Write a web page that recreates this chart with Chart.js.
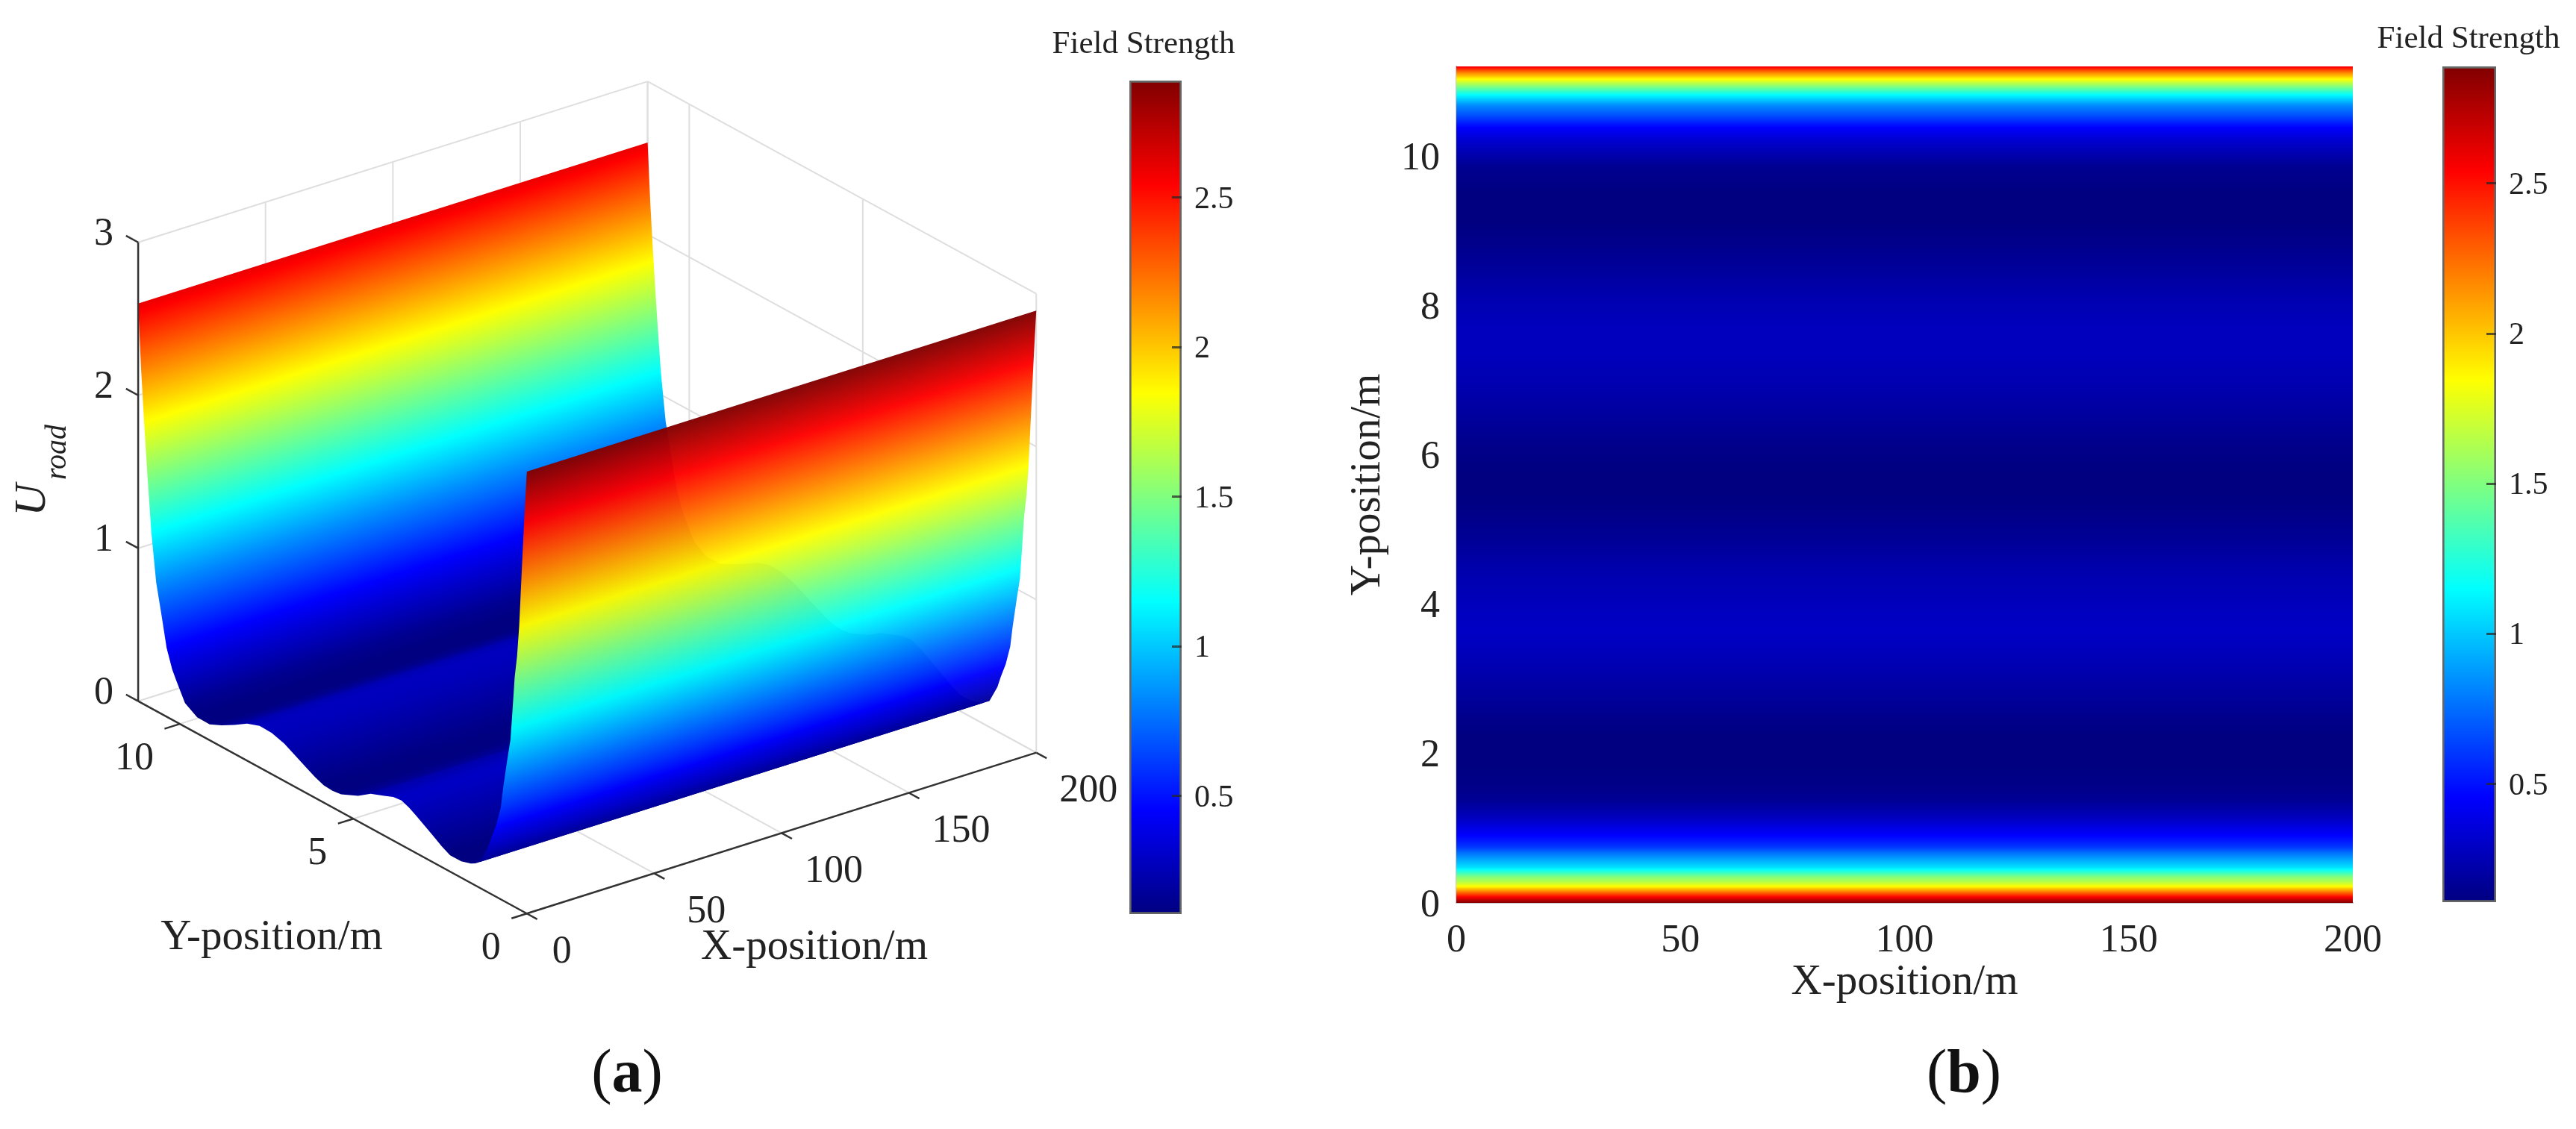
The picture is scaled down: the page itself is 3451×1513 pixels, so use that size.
<!DOCTYPE html>
<html>
<head>
<meta charset="utf-8">
<title>Field Strength</title>
<script src="https://cdn.jsdelivr.net/npm/chart.js@4/dist/chart.umd.min.js"></script>
<style>
  html, body { margin: 0; padding: 0; background: #fff; }
  canvas { position: absolute; left: 0; top: 0; }
</style>
</head>
<body>
<canvas id="surface" width="3451" height="1513"></canvas>
<canvas id="barA" width="3451" height="1513"></canvas>
<canvas id="heat" width="3451" height="1513"></canvas>
<canvas id="barB" width="3451" height="1513"></canvas>
<script>
// values: road position (m) and field strength there
const roadY = [11.2, 11.12, 11.03, 10.93, 10.82, 10.68, 10.53, 10.38, 10.22, 10.1, 9.85, 9.5, 9.14, 8.8, 8.43, 8.06, 7.7, 7.35, 6.99, 6.63, 6.34, 6.1, 5.85, 5.6, 5.35, 4.86, 4.5, 4.11, 3.85, 3.61, 3.4, 3.2, 2.71, 2.45, 2.21, 1.89, 1.61, 1.48, 1.35, 1.12, 1.02, 0.88, 0.75, 0.68, 0.56, 0.47, 0.4, 0.35, 0.28, 0.22, 0.15, 0.08, 0];
const fieldU = [2.6, 2.2, 1.85, 1.5, 1.15, 0.84, 0.65, 0.45, 0.33, 0.27, 0.155, 0.105, 0.104, 0.14, 0.188, 0.243, 0.273, 0.27, 0.245, 0.2, 0.164, 0.135, 0.113, 0.108, 0.116, 0.167, 0.225, 0.26, 0.285, 0.292, 0.272, 0.246, 0.175, 0.135, 0.106, 0.107, 0.127, 0.145, 0.17, 0.29, 0.37, 0.47, 0.6, 0.74, 0.94, 1.08, 1.32, 1.5, 1.65, 1.85, 2.2, 2.54, 2.89];

const xTicks = [0, 50, 100, 150, 200];
const yTicks3d = [0, 5, 10];
const yTicks2d = [0, 2, 4, 6, 8, 10];
const zTicks = [0, 1, 2, 3];
const barTicks = [0.5, 1, 1.5, 2, 2.5];

const xMax = 200, yMax = 11.2;
const barMin = 0.106, barMax = 2.89;
const foldY = 1.48; // where the valley floor turns into the near wall

const W = 3451, H = 1513;
const SERIF = "'Liberation Serif', 'Times New Roman', serif";
const INK = "#222";

// orthographic view of the 3d box, in canvas units
const view = { u0: 705, ux: 3.415, uy: -46.52, v0: 1225, vx: -1.08, vy: -25.45, vz: -205.3 };
function project(x, y, z) {
  return { x: view.u0 + view.ux * x + view.uy * y, y: view.v0 + view.vx * x + view.vy * y + view.vz * z };
}

function jet(v, alpha = 1) {
  const f = Math.min(1, Math.max(0, (v - barMin) / (barMax - barMin)));
  const c = k => Math.round(255 * Math.min(1, Math.max(0, 1.5 - Math.abs(4 * f - k))));
  return `rgba(${c(3)},${c(2)},${c(1)},${alpha})`;
}
const jetKnots = [0.125, 0.375, 0.625, 0.875].map(f => barMin + f * (barMax - barMin));

// colour stops along a gradient, with the colormap's corners kept sharp
function addStops(grad, offsets, values, alpha = 1) {
  const put = (o, v) => grad.addColorStop(Math.min(1, Math.max(0, o)), jet(v, alpha));
  offsets.forEach((o, i) => {
    put(o, values[i]);
    if (i === offsets.length - 1) return;
    const a = values[i], b = values[i + 1];
    const inside = jetKnots.filter(k => (k > a && k < b) || (k < a && k > b));
    if (a > b) inside.reverse();
    inside.forEach(k => put(o + (offsets[i + 1] - o) * (k - a) / (b - a), k));
  });
}

// one smooth piece of the surface: polygon plus gradient across it
function surfaceDataset(ys, us, alpha) {
  const near = ys.map((y, i) => project(0, y, us[i]));
  const far = ys.map((y, i) => project(xMax, y, us[i])).reverse();
  return {
    xAxisID: "u",
    yAxisID: "v",
    data: near.concat(far),
    showLine: true,
    fill: "shape",
    borderWidth: 0,
    pointRadius: 0,
    clip: false,
    backgroundColor(c) {
      if (!c.chart.chartArea) return "transparent"; // first pass, before layout
      const { u, v } = c.chart.scales;
      const pts = near.map(p => ({ x: u.getPixelForValue(p.x), y: v.getPixelForValue(p.y) }));
      const dirx = view.ux, diry = view.vx, len = Math.hypot(dirx, diry);
      const nx = -diry / len, ny = dirx / len;
      const t = pts.map(p => p.x * nx + p.y * ny);
      const span = t[t.length - 1] - t[0];
      const g = c.chart.ctx.createLinearGradient(pts[0].x, pts[0].y, pts[0].x + nx * span, pts[0].y + ny * span);
      addStops(g, t.map(a => (a - t[0]) / span), us, alpha);
      return g;
    }
  };
}

function lineDataset(a, b, color, width) {
  return { xAxisID: "u", yAxisID: "v", data: [a, b], showLine: true, fill: false, borderColor: color, borderWidth: width, pointRadius: 0, clip: false };
}

// back walls and floor
const GRID = "#dedede";
const gridSets = [];
const yWall = yTicks3d.concat([yMax]);
xTicks.forEach(x => {
  gridSets.push(lineDataset(project(x, yMax, 0), project(x, yMax, 3), GRID, 2));
  gridSets.push(lineDataset(project(x, 0, 0), project(x, yMax, 0), GRID, 2));
});
yWall.forEach(y => {
  gridSets.push(lineDataset(project(xMax, y, 0), project(xMax, y, 3), GRID, 2));
  gridSets.push(lineDataset(project(0, y, 0), project(xMax, y, 0), GRID, 2));
});
zTicks.forEach(z => {
  gridSets.push(lineDataset(project(0, yMax, z), project(xMax, yMax, z), GRID, 2));
  gridSets.push(lineDataset(project(xMax, 0, z), project(xMax, yMax, z), GRID, 2));
});

// dark axes and their ticks
const AXIS = "#333";
const axisSets = [
  lineDataset(project(0, yMax, 0), project(0, yMax, 3), AXIS, 2.5),
  lineDataset(project(0, 0, 0), project(xMax, 0, 0), AXIS, 2.5),
  lineDataset(project(0, 0, 0), project(0, yMax, 0), AXIS, 2.5)
];
zTicks.forEach(z => axisSets.push(lineDataset(project(0, yMax, z), project(0, yMax + 0.35, z), AXIS, 2.5)));
xTicks.forEach(x => axisSets.push(lineDataset(project(x, 0, 0), project(x, -0.3, 0), AXIS, 2.5)));
yTicks3d.forEach(y => axisSets.push(lineDataset(project(0, y, 0), project(-6, y, 0), AXIS, 2.5)));

const foldAt = roadY.indexOf(foldY);
const valleySet = surfaceDataset(roadY.slice(0, foldAt + 1), fieldU.slice(0, foldAt + 1), 1);
const wallSet = surfaceDataset(roadY.slice(foldAt), fieldU.slice(foldAt), 0.97);

function say(ctx, text, x, y, size, opts = {}) {
  ctx.save();
  ctx.font = `${opts.style || ""} ${size}px ${SERIF}`;
  ctx.fillStyle = INK;
  ctx.textAlign = opts.align || "center";
  ctx.textBaseline = opts.base || "middle";
  ctx.translate(x, y);
  if (opts.rot) ctx.rotate(opts.rot);
  ctx.fillText(text, 0, 0);
  ctx.restore();
}

function caption(ctx, letter, cx, base) {
  ctx.save();
  ctx.fillStyle = "#111";
  ctx.textBaseline = "alphabetic";
  ctx.textAlign = "left";
  const thin = `82px ${SERIF}`, bold = `bold 82px ${SERIF}`;
  ctx.font = thin;
  const wp = ctx.measureText("(").width;
  ctx.font = bold;
  const wl = ctx.measureText(letter).width;
  let x = cx - (2 * wp + wl) / 2;
  ctx.font = thin;
  ctx.fillText("(", x, base);
  ctx.font = bold;
  ctx.fillText(letter, x + wp, base);
  ctx.font = thin;
  ctx.fillText(")", x + wp + wl, base);
  ctx.restore();
}

// tick labels of the 3d box sit beside their projected tick
const boxText = {
  id: "boxText",
  afterDraw(chart) {
    const { ctx, scales: { u, v } } = chart;
    const at = p => ({ x: u.getPixelForValue(p.x), y: v.getPixelForValue(p.y) });
    zTicks.forEach(z => {
      const p = at(project(0, yMax, z));
      say(ctx, String(z), p.x - 46, p.y - 10, 52);
    });
    xTicks.forEach(x => {
      const p = at(project(x, 0, 0));
      say(ctx, String(x), p.x + (x === 0 ? 47 : 70), p.y + 52, 52);
    });
    yTicks3d.forEach(y => {
      const p = at(project(0, y, 0));
      say(ctx, String(y), p.x - (y === 10 ? 61 : 48), p.y + 47, 52);
    });
    say(ctx, "Y-position/m", 364, 1257, 57);
    say(ctx, "X-position/m", 1091, 1270, 57);
    say(ctx, "U", 60, 670, 60, { style: "italic", rot: -Math.PI / 2, base: "alphabetic" });
    say(ctx, "road", 88, 606, 40, { style: "italic", rot: -Math.PI / 2, base: "alphabetic" });
    caption(ctx, "a", 840, 1463);
  }
};

const surfaceChart = new Chart(document.getElementById("surface"), {
  type: "scatter",
  data: { datasets: axisSets.concat([wallSet, valleySet], gridSets) }, // first one is drawn last
  options: {
    responsive: false,
    animation: false,
    events: [],
    layout: { padding: 0 },
    plugins: { legend: { display: false }, tooltip: { enabled: false } },
    scales: {
      u: { type: "linear", axis: "x", position: "bottom", min: 0, max: W, display: false },
      v: { type: "linear", axis: "y", position: "left", min: 0, max: H, reverse: true, display: false }
    }
  },
  plugins: [boxText]
});
surfaceChart.update();

function colorbar(id, left, right, top, bottom, titleX, titleY) {
  const chart = new Chart(document.getElementById(id), {
    type: "bar",
    data: {
      labels: [""],
      datasets: [{
        data: [[barMin, barMax]],
        barPercentage: 1,
        categoryPercentage: 1,
        borderWidth: 3,
        borderColor: "#666",
        borderSkipped: false,
        backgroundColor(c) {
          if (!c.chart.chartArea) return "transparent";
          const y = c.chart.scales.y;
          const g = c.chart.ctx.createLinearGradient(0, y.getPixelForValue(barMin), 0, y.getPixelForValue(barMax));
          addStops(g, [0, 1], [barMin, barMax]);
          return g;
        }
      }]
    },
    options: {
      responsive: false,
      animation: false,
      events: [],
      layout: { padding: { left, top, right: W - right - 100, bottom: H - bottom } },
      plugins: { legend: { display: false }, tooltip: { enabled: false } },
      scales: {
        x: { display: false },
        y: {
          position: "right",
          min: barMin,
          max: barMax,
          afterBuildTicks(s) { s.ticks = barTicks.map(value => ({ value })); },
          afterFit(s) { s.width = 100; },
          border: { display: false },
          grid: { drawOnChartArea: false, tickLength: -13, tickWidth: 3, tickColor: "rgba(40,40,40,0.75)", z: 1 },
          ticks: {
            padding: 30,
            labelOffset: 3,
            autoSkip: false,
            maxRotation: 0,
            color: INK,
            font: { family: SERIF, size: 42 },
            callback: v => String(v)
          }
        }
      }
    },
    plugins: [{
      id: "barTitle",
      afterDraw(c) { say(c.ctx, "Field Strength", titleX, titleY, 43); }
    }]
  });
  chart.update();
  return chart;
}

colorbar("barA", 1513, 1583, 108, 1225, 1532, 60);
colorbar("barB", 3272, 3344, 89, 1209, 3307, 53);

// top view: same profile stretched along x
const heatSet = {
  data: roadY.map(y => ({ x: 0, y })).concat(roadY.map(y => ({ x: xMax, y })).reverse()),
  showLine: true,
  fill: "shape",
  borderWidth: 0,
  pointRadius: 0,
  backgroundColor(c) {
    if (!c.chart.chartArea) return "transparent";
    const y = c.chart.scales.y;
    const px = roadY.map(r => y.getPixelForValue(r));
    const span = px[px.length - 1] - px[0];
    const g = c.chart.ctx.createLinearGradient(0, px[0], 0, px[0] + span);
    addStops(g, px.map(p => (p - px[0]) / span), fieldU);
    return g;
  }
};

const heatChart = new Chart(document.getElementById("heat"), {
  type: "scatter",
  data: { datasets: [heatSet] },
  options: {
    responsive: false,
    animation: false,
    events: [],
    layout: { padding: { left: 1799, top: 89, right: W - 3152, bottom: 162 } },
    plugins: { legend: { display: false }, tooltip: { enabled: false } },
    scales: {
      x: {
        type: "linear",
        min: 0,
        max: xMax,
        afterBuildTicks(s) { s.ticks = xTicks.map(value => ({ value })); },
        afterFit(s) { s.height = 1351 - 1210; },
        border: { color: "#c8c8c8", width: 2 },
        grid: { display: false, drawTicks: false },
        ticks: { padding: 20, maxRotation: 0, autoSkip: false, color: INK, font: { family: SERIF, size: 52 }, callback: v => String(v) },
        title: { display: true, text: "X-position/m", color: INK, font: { family: SERIF, size: 57 }, padding: 0 }
      },
      y: {
        type: "linear",
        min: 0,
        max: yMax,
        afterBuildTicks(s) { s.ticks = yTicks2d.map(value => ({ value })); },
        afterFit(s) { s.width = 1951 - 1799; },
        border: { color: "#c8c8c8", width: 2 },
        grid: { display: false, drawTicks: false },
        ticks: { padding: 22, labelOffset: 4, autoSkip: false, color: INK, font: { family: SERIF, size: 52 }, callback: v => String(v) },
        title: { display: true, text: "Y-position/m", color: INK, font: { family: SERIF, size: 57 }, padding: 0 }
      }
    }
  },
  plugins: [{
    id: "capB",
    afterDraw(chart) { caption(chart.ctx, "b", 2631, 1463); }
  }]
});
heatChart.update();
</script>
</body>
</html>
